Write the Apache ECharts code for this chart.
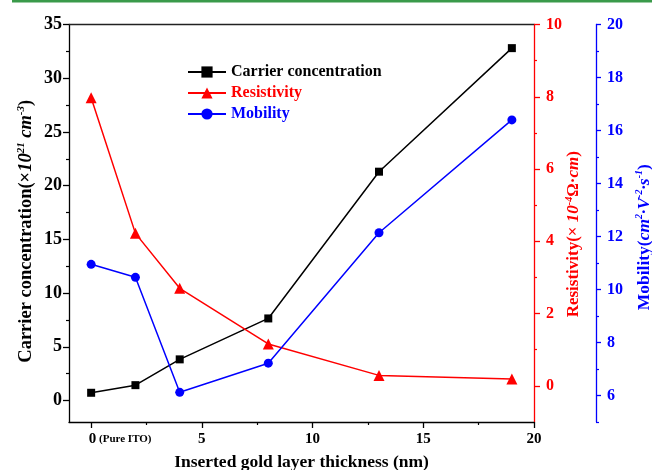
<!DOCTYPE html>
<html>
<head>
<meta charset="utf-8">
<script src="https://cdn.jsdelivr.net/npm/echarts@6/dist/echarts.min.js"></script>
<style>html,body{margin:0;padding:0;background:#fff}#c{width:652px;height:470px}</style>
</head>
<body>
<div id="c"></div>
<script>
// ---- data ----
const thickness = [0, 2, 4, 8, 13, 19];
const carrier = [0.72, 1.43, 3.83, 7.64, 21.3, 32.8];
const resistivity = [7.97, 4.22, 2.70, 1.16, 0.29, 0.19];
const mobility = [10.95, 10.46, 6.12, 7.22, 12.14, 16.40];

const xTicks = [0, 5, 10, 15, 20];
const xMinorTicks = [2.5, 7.5, 12.5, 17.5];
const leftTicks = [0, 5, 10, 15, 20, 25, 30, 35];
const leftMinorTicks = [2.5, 7.5, 12.5, 17.5, 22.5, 27.5, 32.5];
const resTicks = [0, 2, 4, 6, 8, 10];
const resMinorTicks = [1, 3, 5, 7, 9];
const mobTicks = [6, 8, 10, 12, 14, 16, 18, 20];
const mobMinorTicks = [5, 7, 9, 11, 13, 15, 17, 19];

const FONT = "'Liberation Serif', 'Times New Roman', serif";
const chart = echarts.init(document.getElementById('c'));

function minorAxis(base) {
  return Object.assign({
    type: 'value', splitLine: {show: false}, axisLine: {show: false, onZero: false},
    axisLabel: {show: false}
  }, base);
}

const option = {
  animation: false,
  backgroundColor: '#fff',
  grid: {left: 69, right: 118, top: 24.5, bottom: 48, containLabel: false, outerBoundsMode: 'none'},
  graphic: [{type: 'rect', shape: {x: 12, y: 0, width: 640, height: 2.5}, style: {fill: '#3a9a4a'}}],
  legend: {
    left: 182, top: 59, orient: 'vertical',
    itemWidth: 38, itemHeight: 14, itemGap: 5,
    textStyle: {fontFamily: FONT, fontWeight: 'bold', fontSize: 16, lineHeight: 14},
    data: [
      {name: 'Carrier concentration', textStyle: {color: '#000'}},
      {name: 'Resistivity', textStyle: {color: '#ff0000'}},
      {name: 'Mobility', textStyle: {color: '#0000ff'}}
    ]
  },
  xAxis: [
    {
      type: 'value', min: -1, max: 20, position: 'bottom',
      name: 'Inserted gold layer thickness (nm)', nameLocation: 'middle', nameGap: 31,
      nameMoveOverlap: false,
      nameTextStyle: {fontFamily: FONT, fontWeight: 'bold', fontSize: 17.5, color: '#000'},
      splitLine: {show: false},
      axisLine: {onZero: false, lineStyle: {color: '#000', width: 1.3}},
      axisTick: {customValues: xTicks, length: 6, lineStyle: {color: '#000', width: 1.3}},
      axisLabel: {
        customValues: xTicks, margin: 10, color: '#000',
        fontFamily: FONT, fontWeight: 'bold', fontSize: 15,
        formatter: v => v === 0 ? '{pad|}{n|0}{s| (Pure ITO)}' : String(v),
        rich: {
          pad: {width: 58},
          n: {fontFamily: FONT, fontWeight: 'bold', fontSize: 15},
          s: {fontFamily: FONT, fontWeight: 'bold', fontSize: 11}
        }
      }
    },
    minorAxis({min: -1, max: 20, position: 'bottom',
      axisTick: {customValues: xMinorTicks, length: 3, lineStyle: {color: '#000', width: 1.2}}}),
    {
      type: 'value', min: -1, max: 20, position: 'top', splitLine: {show: false},
      axisLine: {onZero: false, lineStyle: {color: '#222', width: 1.3}},
      axisTick: {show: false}, axisLabel: {show: false}
    }
  ],
  yAxis: [
    {
      type: 'value', min: -2, max: 35, position: 'left',
      name: 'Carrier concentration(×{i|10}{sup|21} {i|cm}{sup|-3})',
      nameLocation: 'middle', nameGap: 33, nameMoveOverlap: false,
      nameTextStyle: {
        fontFamily: FONT, fontWeight: 'bold', fontSize: 18.5, color: '#000', lineHeight: 20,
        padding: [0, 16, 0, 0],
        rich: {
          i: {fontFamily: FONT, fontWeight: 'bold', fontStyle: 'italic', fontSize: 18.5, lineHeight: 20},
          sup: {fontFamily: FONT, fontWeight: 'bold', fontStyle: 'italic', fontSize: 11, lineHeight: 10, verticalAlign: 'top'}
        }
      },
      splitLine: {show: false},
      axisLine: {onZero: false, lineStyle: {color: '#000', width: 1.3}},
      axisTick: {customValues: leftTicks, length: 6, lineStyle: {color: '#000', width: 1.3}},
      axisLabel: {customValues: leftTicks, margin: 7, color: '#000', fontFamily: FONT, fontWeight: 'bold', fontSize: 18}
    },
    minorAxis({min: -2, max: 35, position: 'left',
      axisTick: {customValues: leftMinorTicks, length: 3, lineStyle: {color: '#000', width: 1.2}}}),
    {
      type: 'value', min: -1, max: 10, position: 'right',
      name: 'Resistivity(× {i|10}{sup|-4}Ω·{i|cm})',
      nameLocation: 'middle', nameGap: 30, nameMoveOverlap: false,
      nameTextStyle: {
        fontFamily: FONT, fontWeight: 'bold', fontSize: 17, color: '#ff0000', lineHeight: 20,
        padding: [0, 22, 0, 0],
        rich: {
          i: {fontFamily: FONT, fontWeight: 'bold', fontStyle: 'italic', fontSize: 17, lineHeight: 20, color: '#ff0000'},
          sup: {fontFamily: FONT, fontWeight: 'bold', fontStyle: 'italic', fontSize: 10, lineHeight: 10, verticalAlign: 'top', color: '#ff0000'}
        }
      },
      splitLine: {show: false},
      axisLine: {onZero: false, lineStyle: {color: '#ff0000', width: 1.3}},
      axisTick: {customValues: resTicks, length: 6, lineStyle: {color: '#ff0000', width: 1.3}},
      axisLabel: {customValues: resTicks, margin: 12, color: '#ff0000', fontFamily: FONT, fontWeight: 'bold', fontSize: 16}
    },
    minorAxis({min: -1, max: 10, position: 'right',
      axisTick: {customValues: resMinorTicks, length: 3, lineStyle: {color: '#ff0000', width: 1.2}}}),
    {
      type: 'value', min: 5, max: 20, position: 'right', offset: 62,
      name: 'Mobility({i|cm}{sup|2}{i|·V}{sup|-2}{i|·s}{sup|-1})',
      nameLocation: 'middle', nameGap: 38, nameMoveOverlap: false,
      nameTextStyle: {
        fontFamily: FONT, fontWeight: 'bold', fontSize: 17.5, color: '#0000ff', lineHeight: 20,
        padding: [0, 28, 0, 0],
        rich: {
          i: {fontFamily: FONT, fontWeight: 'bold', fontStyle: 'italic', fontSize: 17.5, lineHeight: 20, color: '#0000ff'},
          sup: {fontFamily: FONT, fontWeight: 'bold', fontStyle: 'italic', fontSize: 10, lineHeight: 10, verticalAlign: 'top', color: '#0000ff'}
        }
      },
      splitLine: {show: false},
      axisLine: {onZero: false, lineStyle: {color: '#0000ff', width: 1.3}},
      axisTick: {customValues: mobTicks, length: 5, lineStyle: {color: '#0000ff', width: 1.3}},
      axisLabel: {customValues: mobTicks, margin: 11, color: '#0000ff', fontFamily: FONT, fontWeight: 'bold', fontSize: 16}
    },
    minorAxis({min: 5, max: 20, position: 'right', offset: 62,
      axisTick: {customValues: mobMinorTicks, length: 3, lineStyle: {color: '#0000ff', width: 1.2}}})
  ],
  series: [
    {
      name: 'Carrier concentration', type: 'line', xAxisIndex: 0, yAxisIndex: 0,
      data: thickness.map((x, i) => [x, carrier[i]]),
      symbol: 'rect', symbolSize: 8,
      lineStyle: {color: '#000', width: 1.5}, itemStyle: {color: '#000'}
    },
    {
      name: 'Resistivity', type: 'line', xAxisIndex: 0, yAxisIndex: 2,
      data: thickness.map((x, i) => [x, resistivity[i]]),
      symbol: 'triangle', symbolSize: 11,
      lineStyle: {color: '#ff0000', width: 1.5}, itemStyle: {color: '#ff0000'}
    },
    {
      name: 'Mobility', type: 'line', xAxisIndex: 0, yAxisIndex: 4,
      data: thickness.map((x, i) => [x, mobility[i]]),
      symbol: 'circle', symbolSize: 9,
      lineStyle: {color: '#0000ff', width: 1.5}, itemStyle: {color: '#0000ff'}
    }
  ]
};
chart.setOption(option);
</script>
</body>
</html>
